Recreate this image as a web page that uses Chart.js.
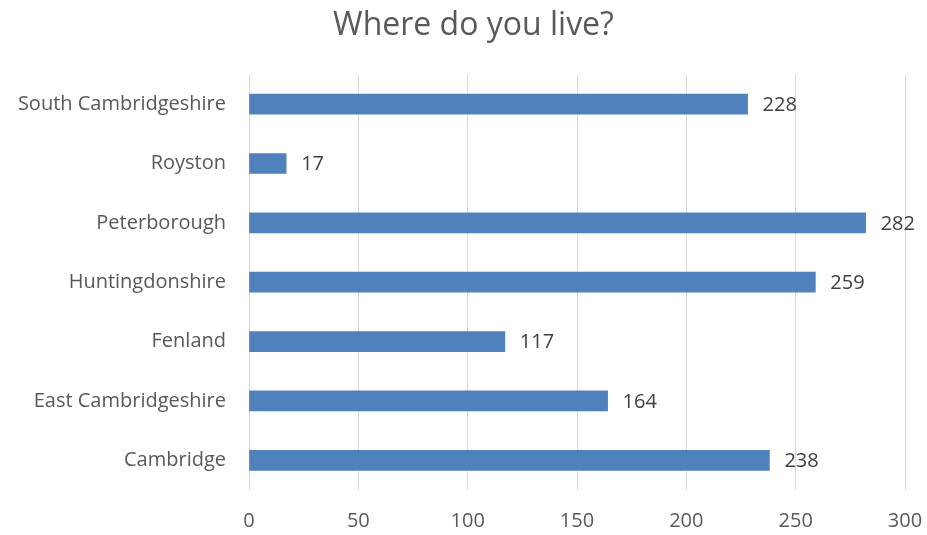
<!DOCTYPE html>
<html>
<head>
<meta charset="utf-8">
<script src="https://cdn.jsdelivr.net/npm/chart.js@4/dist/chart.umd.min.js"></script>
<style>
  html, body { margin: 0; padding: 0; background: #fff; }
  #wrap { width: 927px; height: 535px; }
</style>
</head>
<body>
<div id="wrap"><canvas id="chart" width="927" height="535"></canvas></div>
<script>
const areas = ['Cambridge', 'East Cambridgeshire', 'Fenland', 'Huntingdonshire', 'Peterborough', 'Royston', 'South Cambridgeshire'];
const counts = [238, 164, 117, 259, 282, 17, 228];
const xTicks = [0, 50, 100, 150, 200, 250, 300];

const FONT = "'Open Sans', 'Noto Sans', sans-serif";
const TEXT = '#595959';

// value labels to the right of each bar
const valueLabels = {
    id: 'valueLabels',
    afterDatasetsDraw: (chart) => {
        const ctx = chart.ctx;
        const meta = chart.getDatasetMeta(0);
        ctx.save();
        ctx.font = `20px ${FONT}`;
        ctx.fillStyle = '#404040';
        ctx.textAlign = 'left';
        ctx.textBaseline = 'middle';
        meta.data.forEach((bar, i) => {
            ctx.fillText(String(counts[i]), bar.x + 15, bar.y + 1);
        });
        ctx.restore();
    }
};

// nudge the title box so its centre sits where the original has it
const titleShift = {
    id: 'titleShift',
    afterLayout: (chart) => {
        if (chart.titleBlock) chart.titleBlock.left += 42;
    }
};

new Chart(document.getElementById('chart'), {
    type: 'bar',
    data: {
        labels: areas,
        datasets: [{
            data: counts,
            backgroundColor: '#4f81bd',
            borderWidth: 0,
            barThickness: 20
        }]
    },
    options: {
        indexAxis: 'y',
        responsive: false,
        animation: false,
        layout: { padding: { left: 0, right: 22, top: 0, bottom: 0 } },
        plugins: {
            legend: { display: false },
            tooltip: { enabled: false },
            title: {
                display: true,
                text: 'Where do you live?',
                color: TEXT,
                font: { family: FONT, size: 32, weight: 'normal' },
                padding: { top: 7, bottom: 29 }
            }
        },
        scales: {
            x: {
                min: 0,
                max: 300,
                afterBuildTicks: (scale) => { scale.ticks = xTicks.map(v => ({ value: v })); },
                afterFit: (scale) => {
                    scale.height = 45;
                    scale.paddingLeft = 0;
                    scale.paddingRight = 0;
                },
                grid: { color: '#d9d9d9', lineWidth: 1, drawTicks: false },
                border: { display: false },
                ticks: {
                    color: TEXT,
                    padding: 19,
                    font: { family: FONT, size: 20 }
                }
            },
            y: {
                reverse: true,
                afterFit: (scale) => { scale.width = 249; },
                grid: { display: false, drawTicks: false },
                border: { display: false },
                ticks: {
                    color: TEXT,
                    padding: 23,
                    font: { family: FONT, size: 20 }
                }
            }
        }
    },
    plugins: [valueLabels, titleShift]
});
</script>
</body>
</html>
